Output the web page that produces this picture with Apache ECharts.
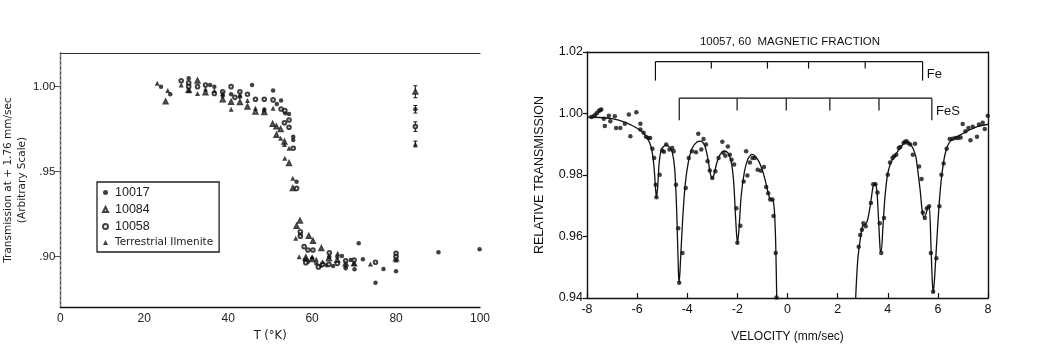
<!DOCTYPE html>
<html><head><meta charset="utf-8">
<script src="https://cdn.jsdelivr.net/npm/echarts@6/dist/echarts.min.js"></script>
<style>html,body{margin:0;padding:0;background:#fff}#c{width:1053px;height:353px}</style>
</head><body><div id="c"></div>
<script>
// ---------- Left panel: transmission vs temperature ----------
const s10017 = [[24.0,1.000],[26.2,0.9955],[30.6,1.0049],[35.7,1.001],[36.7,1.000],[38.7,0.9945],[40.7,0.9955],[42.8,0.994],[45.7,1.001],[48.6,0.9865],[50.7,0.9977],[51.6,0.9898],[52.6,0.9918],[53.6,0.9843],[54.5,0.9839],[55.5,0.9706],[55.5,0.9686],[56.3,0.9441],[57.2,0.9132],[58.3,0.898],[59.0,0.897],[60.0,0.899],[61.0,0.896],[62.0,0.8945],[63.5,0.895],[64.1,0.900],[65.0,0.8945],[66.0,0.900],[67.1,0.9004],[68.0,0.8932],[69.2,0.898],[70.1,0.8926],[71.1,0.9079],[72.1,0.8985],[75.1,0.8847],[77.0,0.8928],[80.0,0.8914],[84.6,0.9867],[90.1,0.9026],[99.9,0.9044]];
const s10084 = [[25.1,0.9912],[30.6,0.998],[32.7,1.0035],[34.6,0.9965],[38.7,0.9925],[40.7,0.991],[42.8,0.9908],[44.6,0.9882],[46.5,0.9853],[48.6,0.985],[50.6,0.978],[51.5,0.9765],[51.5,0.9716],[52.5,0.975],[53.4,0.9676],[54.5,0.955],[55.4,0.9402],[56.3,0.918],[57.1,0.9212],[59.2,0.9122],[60.2,0.9092],[62.2,0.9049],[58.5,0.8995],[60.0,0.8985],[64.0,0.899],[66.0,0.898],[68.0,0.896],[70.0,0.896],[80.0,0.899],[84.6,0.997]];
const s10058 = [[28.8,1.0035],[30.6,1.0022],[30.6,1.000],[32.7,1.000],[34.6,1.001],[36.7,0.996],[38.7,0.997],[40.7,1.000],[41.6,0.9937],[42.8,0.997],[44.6,0.9955],[46.5,0.9926],[48.6,0.9926],[50.7,0.9922],[52.6,0.9869],[53.5,0.9859],[53.4,0.9788],[54.5,0.9804],[54.5,0.9761],[55.5,0.9638],[56.3,0.9402],[57.2,0.9147],[57.2,0.912],[58.1,0.9059],[59.0,0.9039],[60.2,0.9039],[58.5,0.8965],[61.5,0.894],[62.5,0.8955],[64.1,0.9023],[64.0,0.8955],[66.0,0.896],[68.0,0.8976],[70.0,0.898],[75.1,0.8967],[80.0,0.902],[80.0,0.900],[84.6,0.9765]];
const sTerr = [[23.1,1.002],[25.6,0.9977],[28.8,1.001],[30.6,0.9976],[32.7,0.996],[34.6,0.9986],[36.7,0.9977],[38.7,0.996],[40.7,0.9867],[42.8,0.9951],[44.6,0.9918],[46.5,0.9873],[48.6,0.9863],[50.7,0.9873],[52.5,0.9697],[53.4,0.966],[54.5,0.9638],[53.5,0.9579],[55.4,0.9461],[56.1,0.9108],[56.9,0.900],[58.5,0.899],[60.0,0.900],[61.0,0.8985],[62.5,0.897],[64.0,0.900],[66.1,0.902],[68.0,0.895],[70.0,0.896],[73.9,0.8957],[80.0,0.898],[84.6,0.9663]];
const errT = [84.6, 84.6, 84.6, 84.6];
const errMid = [0.997, 0.9867, 0.9765, 0.9663];
const errHalf = [0.0035, 0.0022, 0.0028, 0.0017];
const leftYTickValues = [0.90, 0.95, 1.00];
const leftYTickLabels = ['.90', '.95', '1.00'];
const leftXTicks = [0, 20, 40, 60, 80, 100];

// ---------- Right panel: Mossbauer spectrum ----------
const specPoints = [[-7.83,0.9989],[-7.73,0.9991],[-7.67,0.9996],[-7.6,1.0002],[-7.53,1.0008],[-7.47,1.0011],[-7.43,1.0013],[-7.33,0.9983],[-7.29,0.9959],[-7.13,0.9993],[-7.07,0.9975],[-6.89,0.9991],[-6.84,0.9953],[-6.67,0.9953],[-6.49,0.9967],[-6.33,0.9997],[-6.27,0.9926],[-6.03,1.0004],[-5.87,0.9967],[-5.87,0.9948],[-5.74,0.9937],[-5.65,0.9924],[-5.55,0.992],[-5.48,0.992],[-5.39,0.9885],[-5.32,0.9855],[-5.26,0.9768],[-5.23,0.9728],[-5.1,0.9801],[-5.0,0.988],[-4.93,0.9876],[-4.84,0.9899],[-4.71,0.9883],[-4.6,0.9888],[-4.54,0.9877],[-4.45,0.9768],[-4.36,0.9627],[-4.32,0.945],[-4.19,0.9546],[-4.06,0.9758],[-3.94,0.9855],[-3.81,0.9877],[-3.65,0.9874],[-3.56,0.9934],[-3.44,0.9883],[-3.35,0.9917],[-3.25,0.9899],[-3.19,0.9845],[-3.1,0.9815],[-3.0,0.979],[-2.88,0.9812],[-2.75,0.9855],[-2.6,0.9908],[-2.56,0.9872],[-2.48,0.9863],[-2.38,0.9893],[-2.3,0.9866],[-2.23,0.985],[-2.13,0.9834],[-2.04,0.9692],[-2.0,0.958],[-1.88,0.9635],[-1.75,0.9779],[-1.65,0.9877],[-1.6,0.9798],[-1.5,0.9841],[-1.4,0.9855],[-1.31,0.9855],[-1.19,0.9817],[-1.06,0.9814],[-0.94,0.9826],[-0.85,0.9761],[-0.77,0.9741],[-0.69,0.972],[-0.6,0.972],[-0.56,0.9667],[-0.47,0.9546],[-0.44,0.9402],
[2.84,0.9567],[2.9,0.9605],[2.97,0.9622],[3.03,0.9643],[3.12,0.9633],[3.33,0.9709],[3.42,0.977],[3.51,0.977],[3.59,0.9743],[3.68,0.9643],[3.74,0.9546],[3.85,0.966],[4.0,0.9801],[4.09,0.9841],[4.19,0.9855],[4.25,0.9861],[4.34,0.9866],[4.44,0.9888],[4.5,0.9891],[4.63,0.9904],[4.69,0.9908],[4.75,0.991],[4.81,0.9904],[4.9,0.9899],[5.0,0.9866],[5.09,0.9902],[5.25,0.9828],[5.35,0.9787],[5.4,0.9678],[5.48,0.966],[5.56,0.9692],[5.65,0.9698],[5.72,0.9546],[5.81,0.942],[5.94,0.9529],[6.06,0.9698],[6.14,0.9801],[6.23,0.9837],[6.35,0.9885],[6.47,0.9917],[6.58,0.9918],[6.7,0.992],[6.81,0.992],[6.91,0.9922],[6.99,0.9966],[7.1,0.9942],[7.22,0.9953],[7.3,0.9913],[7.39,0.9957],[7.56,0.9924],[7.64,0.9964],[7.79,0.997],[7.87,0.995],[7.99,0.9993]];
const fitLeft = [[-8,0.9988],[-7.5,0.9987],[-7,0.9983],[-6.5,0.9972],[-6,0.9952],[-5.7,0.9932],[-5.5,0.9905],[-5.4,0.9875],[-5.32,0.982],[-5.26,0.975],[-5.23,0.9728],[-5.18,0.976],[-5.12,0.984],[-5.02,0.9885],[-4.85,0.9897],[-4.7,0.989],[-4.6,0.9875],[-4.5,0.982],[-4.42,0.968],[-4.35,0.948],[-4.32,0.945],[-4.27,0.952],[-4.18,0.966],[-4.08,0.977],[-3.95,0.9845],[-3.8,0.9888],[-3.6,0.9908],[-3.45,0.991],[-3.3,0.9895],[-3.18,0.9855],[-3.08,0.9805],[-3.0,0.979],[-2.92,0.9805],[-2.82,0.984],[-2.68,0.9868],[-2.52,0.9878],[-2.38,0.9872],[-2.25,0.9845],[-2.15,0.978],[-2.07,0.966],[-2.0,0.9578],[-1.94,0.962],[-1.85,0.973],[-1.72,0.981],[-1.58,0.9852],[-1.42,0.9867],[-1.3,0.9862],[-1.15,0.9845],[-1.0,0.9815],[-0.88,0.978],[-0.78,0.9745],[-0.7,0.9722],[-0.58,0.9718],[-0.52,0.968],[-0.47,0.9575],[-0.43,0.94],[-0.41,0.93]];
const fitRight = [[2.68,0.93],[2.72,0.94],[2.8,0.952],[2.9,0.959],[3.0,0.9635],[3.1,0.9638],[3.2,0.9655],[3.32,0.971],[3.42,0.9765],[3.5,0.9772],[3.57,0.9745],[3.63,0.966],[3.7,0.9555],[3.74,0.955],[3.8,0.962],[3.88,0.972],[3.98,0.9795],[4.1,0.9835],[4.3,0.9865],[4.5,0.9888],[4.7,0.9907],[4.85,0.9905],[5.0,0.9888],[5.12,0.986],[5.22,0.98],[5.3,0.9745],[5.38,0.968],[5.45,0.9663],[5.52,0.9672],[5.6,0.9695],[5.66,0.9697],[5.72,0.958],[5.78,0.945],[5.82,0.9418],[5.88,0.948],[5.96,0.959],[6.05,0.9705],[6.15,0.9795],[6.28,0.9865],[6.45,0.9905],[6.7,0.9922],[7.0,0.9935],[7.3,0.9948],[7.6,0.9958],[8.0,0.9965]];
const feLines = [-5.27, -3.04, -0.8, 0.84, 3.1, 5.39];
const fesLines = [-4.32, -2.01, -0.05, 1.69, 3.65, 5.76];
const feLevel = 1.0169, feEnd = 1.0107, feTick = 1.0146;
const fesLevel = 1.005, fesEnd = 0.9978, fesTick = 1.001;

const INK = '#111';
const leftFont = "'Liberation Sans', Arial, sans-serif";
const wideFont = "'DejaVu Sans', 'Liberation Sans', sans-serif";
const rightFont = "'Liberation Sans Narrow', 'Liberation Sans', Arial, sans-serif";

function sticks(lines, level, endBottom, tickBottom) {
  return lines.map((v, i) => [v, level, (i === 0 || i === lines.length - 1) ? endBottom : tickBottom, i === lines.length - 1 ? 1 : 0]);
}
function stickRender(labelText, labelDv, labelVal) {
  return function (params, api) {
    const x = api.value(0), top = api.value(1), bot = api.value(2), last = api.value(3);
    const p1 = api.coord([x, top]), p2 = api.coord([x, bot]);
    const children = [{ type: 'line', shape: { x1: p1[0], y1: p1[1], x2: p2[0], y2: p2[1] }, style: { stroke: INK, lineWidth: 1.2 } }];
    if (last) {
      const pt = api.coord([x + labelDv, labelVal]);
      children.push({ type: 'text', x: pt[0], y: pt[1], style: { text: labelText, fill: INK, font: "13px " + rightFont, align: 'left', verticalAlign: 'middle' } });
    }
    return { type: 'group', children };
  };
}

const chart = echarts.init(document.getElementById('c'), null, { renderer: 'canvas' });
chart.setOption({
  animation: false,
  backgroundColor: '#fff',
  grid: [
    { left: 52, top: 53, width: 428, height: 254 },
    { left: 587, top: 52, width: 401, height: 246 }
  ],
  graphic: [{ type: 'text', x: 790, y: 42, style: { text: '10057, 60  MAGNETIC FRACTION', fill: INK, font: "11.5px " + rightFont, align: 'center', verticalAlign: 'middle' } }],
  legend: {
    orient: 'vertical', left: 97, top: 182, padding: [4, 6, 4, 5], itemGap: 4,
    itemWidth: 5, itemHeight: 5, borderColor: '#222', borderWidth: 1.3,
    itemStyle: { borderWidth: 0.8 },
    textStyle: { fontFamily: leftFont, fontSize: 12.5, color: '#222', padding: [0, 0, 0, 2] },
    data: [
      { name: '10017' }, { name: '10084' }, { name: '10058' },
      { name: 'Terrestrial Ilmenite', textStyle: { fontFamily: wideFont, fontSize: 10.5 } }
    ]
  },
  xAxis: [
    { gridIndex: 0, type: 'value', min: 0, max: 100, interval: 20, position: 'bottom',
      axisLine: { lineStyle: { color: INK, width: 1.3 } }, axisTick: { show: false },
      axisLabel: { color: '#222', fontFamily: leftFont, fontSize: 12, margin: 6,
        customValues: leftXTicks },
      splitLine: { show: false },
      name: 'T (°K)', nameLocation: 'middle', nameGap: 20,
      nameTextStyle: { color: '#222', fontFamily: wideFont, fontSize: 11.5 } },
    { gridIndex: 0, type: 'value', min: 0, max: 100, position: 'top',
      axisLine: { lineStyle: { color: '#333', width: 1.1 } }, axisTick: { show: false }, axisLabel: { show: false }, splitLine: { show: false } },
    { gridIndex: 1, type: 'value', min: -8, max: 8, interval: 2, position: 'bottom',
      axisLine: { onZero: false, lineStyle: { color: INK, width: 1.4 } },
      axisTick: { inside: true, length: 5, lineStyle: { color: INK, width: 1.2 } },
      axisLabel: { color: INK, fontFamily: rightFont, fontSize: 12.5, margin: 5 },
      splitLine: { show: false },
      name: 'VELOCITY (mm/sec)', nameLocation: 'middle', nameGap: 33,
      nameTextStyle: { color: INK, fontFamily: rightFont, fontSize: 12 } },
    { gridIndex: 1, type: 'value', min: -8, max: 8, position: 'top',
      axisLine: { onZero: false, lineStyle: { color: INK, width: 1.4 } }, axisTick: { show: false }, axisLabel: { show: false }, splitLine: { show: false } }
  ],
  yAxis: [
    { gridIndex: 0, type: 'value', min: 0.8704, max: 1.0198, position: 'left',
      axisLine: { show: true, lineStyle: { color: INK, width: 1.3 } },
      axisTick: { show: true, length: 3, customValues: leftYTickValues, lineStyle: { color: INK } },
      axisLabel: { color: '#222', fontFamily: leftFont, fontSize: 11.5, margin: 5,
        customValues: leftYTickValues,
        formatter: v => { const i = leftYTickValues.findIndex(t => Math.abs(t - v) < 1e-6); return i >= 0 ? leftYTickLabels[i] : ''; } },
      splitLine: { show: false },
      name: 'Transmission at + 1.76 mm/sec\n(Arbitrary Scale)', nameLocation: 'middle', nameRotate: 90, nameGap: 27,
      nameTextStyle: { color: '#222', fontFamily: wideFont, fontSize: 10.5, lineHeight: 14 } },
    { gridIndex: 0, type: 'value', min: 0.8704, max: 1.0198, position: 'right',
      axisLine: { show: true, lineStyle: { color: '#888', width: 1, type: [3, 2] } },
      axisTick: { show: true, inside: true, length: 6, customValues: leftYTickValues, lineStyle: { color: '#555' } },
      axisLabel: { show: false }, splitLine: { show: false } },
    { gridIndex: 1, type: 'value', min: 0.94, max: 1.02, interval: 0.02, position: 'left',
      axisLine: { show: true, onZero: false, lineStyle: { color: INK, width: 1.4 } },
      axisTick: { show: true, length: 4, lineStyle: { color: INK, width: 1.2 } },
      axisLabel: { color: INK, fontFamily: rightFont, fontSize: 12.5, margin: 4, formatter: v => v.toFixed(2) },
      splitLine: { show: false },
      name: 'RELATIVE TRANSMISSION', nameLocation: 'middle', nameRotate: 90, nameGap: 41,
      nameTextStyle: { color: INK, fontFamily: rightFont, fontSize: 12.5 } },
    { gridIndex: 1, type: 'value', min: 0.94, max: 1.02, position: 'right',
      axisLine: { show: true, onZero: false, lineStyle: { color: INK, width: 1.4 } }, axisTick: { show: false }, axisLabel: { show: false }, splitLine: { show: false } }
  ],
  series: [
    { name: '10017', type: 'scatter', xAxisIndex: 0, yAxisIndex: 0, data: s10017, symbol: 'circle', symbolSize: 4.5, itemStyle: { color: INK } },
    { name: '10084', type: 'scatter', xAxisIndex: 0, yAxisIndex: 0, data: s10084, symbol: 'emptyTriangle', symbolSize: 4, itemStyle: { color: INK, borderColor: INK, borderWidth: 0.8 } },
    { name: '10058', type: 'scatter', xAxisIndex: 0, yAxisIndex: 0, data: s10058, symbol: 'emptyCircle', symbolSize: 3.6, itemStyle: { color: INK, borderColor: INK, borderWidth: 0.8 } },
    { name: 'Terrestrial Ilmenite', type: 'scatter', xAxisIndex: 0, yAxisIndex: 0, data: sTerr, symbol: 'triangle', symbolSize: 5, itemStyle: { color: INK } },
    { type: 'custom', xAxisIndex: 0, yAxisIndex: 0, silent: true,
      data: errT.map((t, i) => [t, errMid[i], errHalf[i]]),
      renderItem: (params, api) => {
        const t = api.value(0), m = api.value(1), h = api.value(2);
        const a = api.coord([t, m + h]), b = api.coord([t, m - h]);
        const s = { stroke: INK, lineWidth: 1 };
        return { type: 'group', children: [
          { type: 'line', shape: { x1: a[0], y1: a[1], x2: b[0], y2: b[1] }, style: s },
          { type: 'line', shape: { x1: a[0] - 2, y1: a[1], x2: a[0] + 2, y2: a[1] }, style: s },
          { type: 'line', shape: { x1: b[0] - 2, y1: b[1], x2: b[0] + 2, y2: b[1] }, style: s }
        ] };
      } },
    { type: 'line', xAxisIndex: 2, yAxisIndex: 2, data: fitLeft, showSymbol: false, smooth: 0.25, clip: true, lineStyle: { color: INK, width: 1.3 }, silent: true },
    { type: 'line', xAxisIndex: 2, yAxisIndex: 2, data: fitRight, showSymbol: false, smooth: 0.25, clip: true, lineStyle: { color: INK, width: 1.3 }, silent: true },
    { type: 'scatter', xAxisIndex: 2, yAxisIndex: 2, data: specPoints, symbol: 'circle', symbolSize: 4.5, itemStyle: { color: INK } },
    { type: 'line', xAxisIndex: 2, yAxisIndex: 2, data: [[feLines[0], feLevel], [feLines[feLines.length - 1], feLevel]], showSymbol: false, lineStyle: { color: INK, width: 1.2 }, silent: true },
    { type: 'line', xAxisIndex: 2, yAxisIndex: 2, data: [[fesLines[0], fesLevel], [fesLines[fesLines.length - 1], fesLevel]], showSymbol: false, lineStyle: { color: INK, width: 1.2 }, silent: true },
    { type: 'custom', xAxisIndex: 2, yAxisIndex: 2, silent: true, data: sticks(feLines, feLevel, feEnd, feTick), renderItem: stickRender('Fe', 0.17, 1.0128) },
    { type: 'custom', xAxisIndex: 2, yAxisIndex: 2, silent: true, data: sticks(fesLines, fesLevel, fesEnd, fesTick), renderItem: stickRender('FeS', 0.17, 1.0008) }
  ]
});
</script></body></html>
